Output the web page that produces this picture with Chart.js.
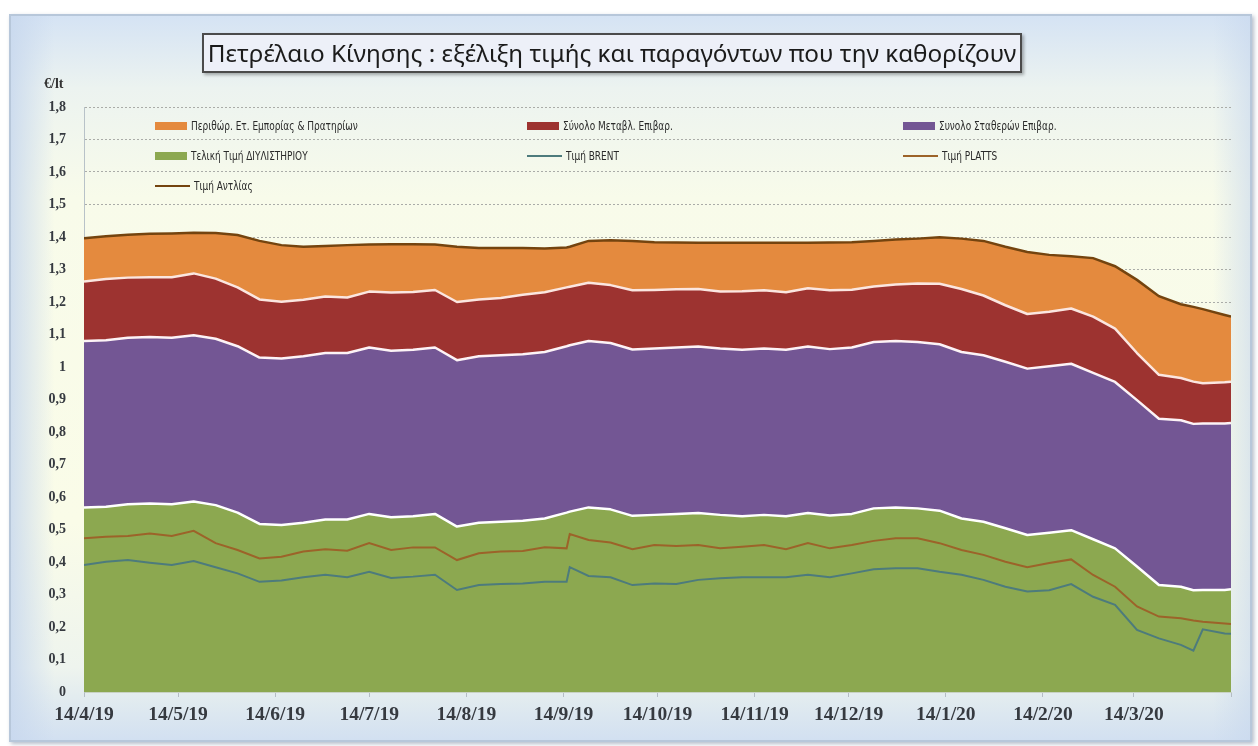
<!DOCTYPE html>
<html><head><meta charset="utf-8">
<script src="https://cdn.jsdelivr.net/npm/chart.js@4.4.0/dist/chart.umd.min.js"></script>
<style>
html,body{margin:0;padding:0;background:#fff;width:1258px;height:746px;overflow:hidden;}
#frame{position:absolute;left:9px;top:14px;width:1239px;height:724px;border:2px solid #b7c7da;box-shadow:2px 2px 4px rgba(90,110,140,.45);
 background:
  linear-gradient(to right, rgba(200,216,238,.85) 0%, rgba(200,216,238,0) 3.5%, rgba(200,216,238,0) 97%, rgba(200,216,238,.6) 100%),
  linear-gradient(to bottom, #d5e3f4 0%, #ecf3f0 10%, #f8fbea 25%, #fafce8 70%, #eef4ee 90%, #d2e0f1 100%);}
#c{position:absolute;left:0;top:0;}
#title{position:absolute;left:202px;top:33px;width:816px;height:36px;border:2px solid #4b4b4b;background:#edf0f8;
 font:24.3px "Noto Sans","Open Sans",sans-serif;text-align:center;line-height:36px;color:#1b1b1b;box-shadow:2px 2px 3px rgba(0,0,0,.3);white-space:nowrap;}
#unit{position:absolute;left:44px;top:76px;font:bold 14px "Liberation Serif",serif;color:#333;}
.li{position:absolute;display:flex;align-items:center;height:16px;font:12px "DejaVu Sans Condensed","DejaVu Sans",sans-serif;font-stretch:condensed;color:#2a2a2a;white-space:nowrap;}
.mk{display:inline-block;margin-right:4px;flex:none;}
.tx{display:inline-block;transform:scaleX(0.83);transform-origin:left center;}
</style></head>
<body>
<div id="frame"></div>
<canvas id="c" width="1258" height="746"></canvas>
<div id="title">Πετρέλαιο Κίνησης : εξέλιξη τιμής και παραγόντων που την καθορίζουν</div>
<div id="unit">€/lt</div>
<div id="legend"></div>
<script>
// days since 14/4/2019
const days = [0,7,14,21,28,35,42,49,56,63,70,77,84,91,98,105,112,119,126,133,140,147,154,155,
  161,168,175,182,189,196,203,210,217,224,231,238,245,252,259,266,273,280,287,294,301,308,315,322,329,336,343,350,354,357,364,366];
const refinery = [.568,.570,.578,.580,.578,.586,.575,.552,.517,.514,.521,.531,.531,.548,.538,.541,.548,.509,.521,.524,.527,.534,.552,.555,
  .568,.562,.542,.545,.548,.551,.545,.541,.545,.541,.551,.543,.548,.565,.568,.565,.558,.534,.524,.504,.483,.490,.498,.470,.442,.386,.329,.324,.313,.314,.314,.316];
const fixedCharges = [.512,.512,.512,.512,.512,.512,.512,.512,.512,.512,.512,.512,.512,.512,.512,.512,.512,.512,.512,.512,.512,.512,.512,.512,
  .512,.512,.512,.512,.512,.512,.512,.512,.512,.512,.512,.512,.512,.512,.512,.512,.512,.512,.512,.512,.512,.512,.512,.512,.512,.512,.512,.512,.512,.512,.512,.512];
const variableCharges = [.183,.189,.185,.184,.186,.190,.185,.181,.179,.175,.174,.174,.171,.172,.179,.178,.177,.179,.175,.176,.183,.184,.181,.180,
  .179,.178,.182,.180,.179,.177,.175,.180,.179,.177,.179,.181,.178,.171,.174,.180,.186,.194,.184,.174,.168,.168,.170,.173,.164,.145,.135,.130,.130,.124,.127,.127];
const margin = [.133,.131,.132,.134,.135,.125,.140,.161,.180,.174,.163,.155,.161,.145,.149,.147,.140,.170,.158,.154,.144,.135,.123,.123,
  .129,.138,.152,.147,.144,.142,.150,.149,.146,.152,.140,.147,.146,.140,.138,.138,.143,.155,.168,.180,.191,.175,.161,.180,.192,.225,.242,.227,.230,.228,.207,.200];
const brent = [.391,.401,.406,.398,.391,.403,.384,.365,.339,.343,.353,.361,.353,.370,.351,.355,.361,.314,.329,.332,.334,.339,.339,.384,
  .357,.353,.329,.334,.332,.345,.350,.353,.353,.353,.361,.353,.365,.378,.381,.381,.370,.361,.345,.324,.309,.313,.332,.293,.268,.191,.165,.145,.127,.193,.180,.179];
const platts = [.473,.478,.480,.488,.480,.496,.458,.437,.411,.416,.432,.439,.435,.458,.437,.445,.445,.406,.427,.432,.434,.445,.442,.486,
  .468,.460,.439,.452,.449,.452,.442,.447,.452,.439,.458,.442,.452,.465,.473,.473,.458,.437,.422,.401,.384,.397,.408,.360,.324,.263,.232,.227,.220,.216,.211,.209];
const pump = [1.396,1.402,1.407,1.410,1.411,1.413,1.412,1.406,1.388,1.375,1.370,1.372,1.375,1.377,1.378,1.378,1.377,1.370,1.366,1.366,1.366,1.365,1.368,1.370,
  1.388,1.390,1.388,1.384,1.383,1.382,1.382,1.382,1.382,1.382,1.382,1.383,1.384,1.388,1.392,1.395,1.399,1.395,1.388,1.370,1.354,1.345,1.341,1.335,1.310,1.268,1.218,1.193,1.185,1.178,1.160,1.155];
const xTickDays = [0,30,61,91,122,153,183,214,244,275,306,335,366];
const xTickLabels = ['14/4/19','14/5/19','14/6/19','14/7/19','14/8/19','14/9/19','14/10/19','14/11/19','14/12/19','14/1/20','14/2/20','14/3/20',''];
const seriesNames = ['Τελική Τιμή ΔΙΥΛΙΣΤΗΡΙΟΥ','Συνολο Σταθερών Επιβαρ.','Σύνολο Μεταβλ. Επιβαρ.','Περιθώρ. Ετ. Εμπορίας & Πρατηρίων','Τιμή BRENT','Τιμή PLATTS','Τιμή Αντλίας'];

const pts = arr => days.map((d,i)=>({x:d,y:arr[i]}));
const area = (name, arr, color, fill, border) => ({label:name, data:pts(arr), stack:'s', fill:fill, backgroundColor:color,
  borderColor:border, borderWidth:border?2.5:0, pointRadius:0, tension:0, order:1, borderJoinStyle:'round', _kind:'area'});
const line = (name, arr, color, stack, w) => ({label:name, data:pts(arr), stack:stack, fill:false, borderColor:color, backgroundColor:color,
  borderWidth:w, pointRadius:0, tension:0, order:0, _kind:'line'});

const chart = new Chart(document.getElementById('c'), {
  type:'line',
  data:{datasets:[
    area(seriesNames[0], refinery, '#8ca850', 'origin', '#ffffff'),
    area(seriesNames[1], fixedCharges, '#735694', '-1', '#fdf3f6'),
    area(seriesNames[2], variableCharges, '#9d3330', '-1', '#fbe6e0'),
    area(seriesNames[3], margin, '#e48a3e', '-1', null),
    line(seriesNames[4], brent, '#4d7b7c', 'b', 2),
    line(seriesNames[5], platts, '#9c6329', 'p', 2),
    line(seriesNames[6], pump, '#74440f', 'q', 2.5)
  ]},
  options:{
    responsive:false, animation:false, devicePixelRatio:1,
    layout:{padding:{left:20,right:27,top:107,bottom:0}},
    plugins:{legend:{display:false}, tooltip:{enabled:false}},
    scales:{
      x:{type:'linear', min:0, max:366,
        afterBuildTicks:s=>{s.ticks = xTickDays.map(v=>({value:v}));},
        afterFit:s=>{s.height = 54;},
        grid:{drawOnChartArea:false, drawTicks:true, tickLength:5, color:'#b4bcc4'},
        border:{display:true, color:'#c9d2c4'},
        ticks:{autoSkip:false, maxRotation:0, padding:6, color:'#363a40', font:{family:'"Liberation Serif", serif', size:19.5, weight:'bold'},
          callback:v=>{const i = xTickDays.indexOf(v); return i>=0 ? xTickLabels[i] : '';}}
      },
      y:{stacked:true, min:0, max:1.8,
        afterFit:s=>{s.width = 64;},
        grid:{color:'#aaaca8', lineWidth:1, drawTicks:false},
        border:{display:true, color:'#b8c2c8', dash:[2,2]},
        ticks:{stepSize:0.1, padding:18, color:'#363a40', font:{family:'"Liberation Serif", serif', size:14, weight:'bold'},
          callback:v=>{const r = Math.round(v*10)/10; return (Number.isInteger(r) ? String(r) : r.toFixed(1).replace('.', ','));}}
      }
    }
  }
});

// HTML legend built from the chart's datasets
const legendOrder = [3,2,1,0,4,5,6];
const legendColX = [155,527,903];
const legendRowY = [118,148,178];
const lg = document.getElementById('legend');
legendOrder.forEach((di,k)=>{
  const ds = chart.data.datasets[di];
  const item = document.createElement('div');
  item.className = 'li';
  item.style.left = legendColX[k%3] + 'px';
  item.style.top = legendRowY[Math.floor(k/3)] + 'px';
  const mk = document.createElement('span');
  mk.className = 'mk';
  if (ds._kind === 'area') { mk.style.width='32px'; mk.style.height='8px'; mk.style.background = ds.backgroundColor; }
  else { mk.style.width='35px'; mk.style.height='2px'; mk.style.background = ds.borderColor; }
  const tx = document.createElement('span');
  tx.className = 'tx';
  tx.textContent = ds.label;
  item.appendChild(mk);
  item.appendChild(tx);
  lg.appendChild(item);
});
</script>
</body></html>
